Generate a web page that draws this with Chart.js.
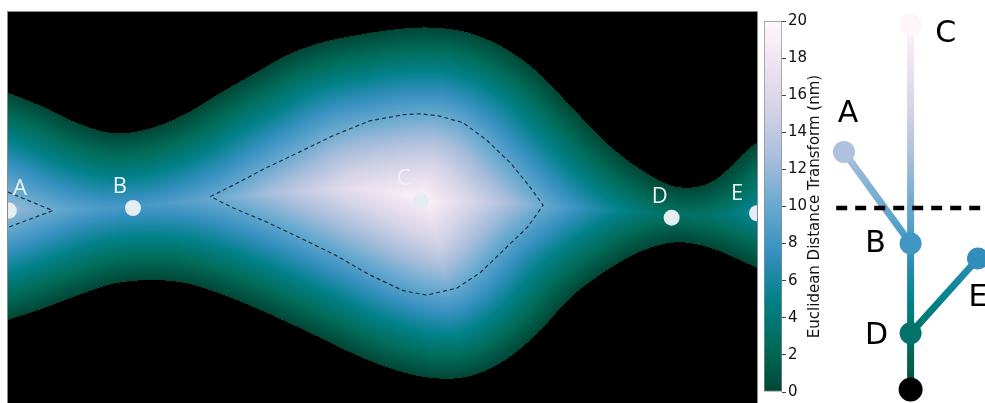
<!DOCTYPE html>
<html>
<head>
<meta charset="utf-8">
<script src="https://cdn.jsdelivr.net/npm/chart.js@4.4.1/dist/chart.umd.min.js"></script>
<style>
  html, body { margin: 0; padding: 0; background: #fff; }
  #wrap { position: relative; width: 985px; height: 403px; overflow: hidden; }
  #wrap canvas { position: absolute; top: 0; }
</style>
</head>
<body>
<div id="wrap">
  <canvas id="fieldChart" width="760" height="403" style="left:0"></canvas>
  <canvas id="cbarChart" width="67" height="403" style="left:763px"></canvas>
  <canvas id="treeChart" width="155" height="403" style="left:830px"></canvas>
</div>
<script>
    // ==========================================
    // DATA (distances in nm)
    // ==========================================
    // channel walls, read every 4 nm along the channel
    const wallX      = [0, 4, 8, 12, 16, 20, 24, 28, 32, 36, 40, 44, 48, 52, 56, 60, 64, 68, 72, 76, 80, 84, 85.1];
    const wallTop    = [13.1, 11.5, 9.6, 8.5, 9.0, 10.6, 13.0, 15.3, 17.5, 18.9, 19.7, 20.3, 20.5, 20.0, 18.4, 15.6, 11.5, 7.4, 4.3, 2.4, 3.0, 6.6, 7.4];
    const wallBottom = [-12.7, -11.4, -9.9, -8.6, -8.2, -8.5, -9.7, -11.3, -13.1, -15.0, -16.9, -18.4, -19.3, -19.2, -17.6, -14.4, -10.1, -7.1, -4.9, -3.9, -4.6, -6.3, -6.8];

    // critical points in the channel
    const siteNames = ['A', 'B', 'C', 'D', 'E'];
    const siteX = [0.1, 14.2, 46.9, 75.4, 85.1];
    const siteY = [-0.3, 0.0, 0.8, -1.1, -0.6];

    // dashed iso-line at the threshold (two pieces)
    const isoLevel = 10;
    const isoCX = [23.0, 25.6, 29.4, 33.2, 36.9, 41.1, 44.9, 46.8, 48.8, 51.7, 54.4, 57.1, 59.3, 60.8, 59.0, 56.3, 53.6, 51.0, 47.6, 44.9, 41.1, 36.9, 33.2, 29.4, 25.6, 23.0];
    const isoCY = [1.3, 2.6, 4.6, 6.4, 8.2, 9.9, 10.6, 10.7, 10.5, 9.7, 7.7, 5.1, 2.4, 0.3, -2.2, -4.8, -7.4, -9.1, -9.9, -9.4, -7.6, -5.2, -3.4, -1.6, 0.0, 1.3];
    const isoAX = [0, 5.1, 0];
    const isoAY = [1.8, -0.3, -2.2];

    // merge tree
    const treeNames = ['A', 'B', 'C', 'D', 'E', 'root'];
    const treeX     = [0.9, 5.2, 5.2, 5.2, 9.55, 5.2];
    const treeLevel = [13.0, 8.1, 19.8, 3.3, 7.3, 0.3];
    const treeEdges = [['C', 'B'], ['A', 'B'], ['B', 'D'], ['E', 'D'], ['D', 'root']];

    // colour bar
    const cbarMin = 0, cbarMax = 20, cbarStep = 2;
    const cbarTitle = 'Euclidean Distance Transform (nm)';
    const cmapStops = ['#014636', '#016c59', '#02818a', '#3690c0', '#67a9cf', '#a6bddb', '#d0d1e6', '#ece2f0', '#fff7fb']; // PuBuGn_r
    // ==========================================

    const stopRGB = cmapStops.map(h => [1, 3, 5].map(i => parseInt(h.substr(i, 2), 16)));
    function cmap(v) {
        const t = Math.max(0, Math.min(1, (v - cbarMin) / (cbarMax - cbarMin))) * (stopRGB.length - 1);
        const i = Math.min(Math.floor(t), stopRGB.length - 2), f = t - i;
        const a = stopRGB[i], b = stopRGB[i + 1];
        return [a[0] + (b[0] - a[0]) * f, a[1] + (b[1] - a[1]) * f, a[2] + (b[2] - a[2]) * f];
    }
    const cssColor = c => `rgb(${Math.round(c[0])},${Math.round(c[1])},${Math.round(c[2])})`;

    function vGradient(chart, yScale) {
        const g = chart.ctx.createLinearGradient(0, yScale.getPixelForValue(cbarMin), 0, yScale.getPixelForValue(cbarMax));
        cmapStops.forEach((c, i) => g.addColorStop(i / (cmapStops.length - 1), c));
        return g;
    }

    // smooth wall curve (same idea as line tension)
    function cr(p0, p1, p2, p3, t) {
        const t2 = t * t, t3 = t2 * t;
        return 0.5 * (2 * p1 + (-p0 + p2) * t + (2 * p0 - 5 * p1 + 4 * p2 - p3) * t2 + (-p0 + 3 * p1 - 3 * p2 + p3) * t3);
    }
    function smooth(xs, ys, n) {
        const ox = [], oy = [], last = xs.length - 1;
        for (let i = 0; i < last; i++) {
            const i0 = Math.max(i - 1, 0), i3 = Math.min(i + 2, last);
            for (let k = 0; k < n; k++) {
                ox.push(cr(xs[i0], xs[i], xs[i + 1], xs[i3], k / n));
                oy.push(cr(ys[i0], ys[i], ys[i + 1], ys[i3], k / n));
            }
        }
        ox.push(xs[last]); oy.push(ys[last]);
        return { x: ox, y: oy };
    }
    const topWall = smooth(wallX, wallTop, 10);
    const botWall = smooth(wallX, wallBottom, 10);

    function findIdx(arr, v) {
        let lo = 0, hi = arr.length - 1;
        if (v <= arr[0]) return 0;
        if (v >= arr[hi]) return hi - 1;
        while (hi - lo > 1) { const m = (lo + hi) >> 1; if (arr[m] <= v) lo = m; else hi = m; }
        return lo;
    }
    function wallAt(W, x) {
        const i = findIdx(W.x, x);
        const f = Math.max(0, Math.min(1, (x - W.x[i]) / (W.x[i + 1] - W.x[i])));
        return W.y[i] + (W.y[i + 1] - W.y[i]) * f;
    }
    function segDist2(px, py, x1, y1, x2, y2) {
        const dx = x2 - x1, dy = y2 - y1;
        let t = ((px - x1) * dx + (py - y1) * dy) / (dx * dx + dy * dy || 1);
        t = Math.max(0, Math.min(1, t));
        const ex = x1 + t * dx - px, ey = y1 + t * dy - py;
        return ex * ex + ey * ey;
    }
    function distToWall(W, px, py, best) {
        const n = W.x.length, i0 = findIdx(W.x, px);
        for (let i = i0; i >= 0; i--) {
            const gap = px - W.x[i + 1];
            if (gap > 0 && gap * gap > best) break;
            best = Math.min(best, segDist2(px, py, W.x[i], W.y[i], W.x[i + 1], W.y[i + 1]));
        }
        for (let i = i0 + 1; i < n - 1; i++) {
            const gap = W.x[i] - px;
            if (gap > 0 && gap * gap > best) break;
            best = Math.min(best, segDist2(px, py, W.x[i], W.y[i], W.x[i + 1], W.y[i + 1]));
        }
        return best;
    }

    // Euclidean distance transform painted pixel by pixel through the chart scales
    function renderField(xs, ys, area) {
        const w = Math.round(area.right - area.left), h = Math.round(area.bottom - area.top);
        const off = document.createElement('canvas');
        off.width = w; off.height = h;
        const octx = off.getContext('2d');
        const img = octx.createImageData(w, h);
        const xv = [];
        for (let i = 0; i < w; i++) xv.push(xs.getValueForPixel(area.left + i + 0.5));
        for (let j = 0; j < h; j++) {
            const y = ys.getValueForPixel(area.top + j + 0.5);
            for (let i = 0; i < w; i++) {
                const x = xv[i], k = (j * w + i) * 4;
                let c = [0, 0, 0];
                if (y <= wallAt(topWall, x) && y >= wallAt(botWall, x)) {
                    let d2 = distToWall(topWall, x, y, Infinity);
                    d2 = distToWall(botWall, x, y, d2);
                    c = cmap(Math.sqrt(d2));
                }
                img.data[k] = c[0]; img.data[k + 1] = c[1]; img.data[k + 2] = c[2]; img.data[k + 3] = 255;
            }
        }
        octx.putImageData(img, 0, 0);
        return off;
    }

    const fieldPlugin = {
        id: 'edtField',
        beforeDatasetsDraw(chart) {
            const { ctx, chartArea: a, scales } = chart;
            if (!chart.$field) chart.$field = renderField(scales.x, scales.y, a);
            ctx.drawImage(chart.$field, Math.round(a.left), Math.round(a.top));
        },
        afterDatasetsDraw(chart) {
            const { ctx, scales } = chart;
            ctx.save();
            ctx.fillStyle = '#eef3f6';
            ctx.font = '22px "Open Sans"';
            ctx.textAlign = 'center';
            ctx.textBaseline = 'middle';
            const offs = [[11, -22], [-13, -21], [-17, -22], [-12, -21], [-20, -20]];
            siteNames.forEach((s, i) => {
                ctx.fillText(s, scales.x.getPixelForValue(siteX[i]) + offs[i][0], scales.y.getPixelForValue(siteY[i]) + offs[i][1]);
            });
            ctx.restore();
        },
        afterDraw(chart) {
            const { ctx, chartArea: a } = chart;
            ctx.save();
            ctx.strokeStyle = '#8c8c8c';
            ctx.lineWidth = 1;
            ctx.strokeRect(a.left - 0.5, a.top - 0.5, a.right - a.left + 1, a.bottom - a.top + 1);
            ctx.restore();
        }
    };

    const toXY = (xs, ys) => xs.map((x, i) => ({ x, y: ys[i] }));
    const isoStyle = { type: 'line', showLine: true, borderColor: '#23303c', borderWidth: 1.2, borderDash: [4, 3], pointRadius: 0, tension: 0, clip: 0 };

    new Chart(document.getElementById('fieldChart'), {
        type: 'scatter',
        data: {
            datasets: [
                { data: toXY(siteX, siteY), pointRadius: 8, pointBackgroundColor: '#e3edf2', pointBorderWidth: 0, clip: 0 },
                { ...isoStyle, data: toXY(isoCX, isoCY) },
                { ...isoStyle, data: toXY(isoAX, isoAY) }
            ]
        },
        options: {
            responsive: false,
            animation: false,
            layout: { autoPadding: false, padding: { left: 8, right: 3, top: 12, bottom: 0 } },
            plugins: { legend: { display: false }, tooltip: { enabled: false } },
            scales: {
                x: { type: 'linear', min: 0, max: 85.1, display: false },
                y: { type: 'linear', min: -22.16, max: 22.27, display: false }
            }
        },
        plugins: [fieldPlugin]
    });

    // colour bar
    const cbarTitlePlugin = {
        id: 'cbarTitle',
        afterDraw(chart) {
            const { ctx, chartArea: a } = chart;
            ctx.save();
            ctx.translate(52, (a.top + a.bottom) / 2);
            ctx.rotate(-Math.PI / 2);
            ctx.fillStyle = '#111';
            ctx.font = '15px "DejaVu Sans"';
            ctx.textAlign = 'center';
            ctx.textBaseline = 'middle';
            ctx.fillText(cbarTitle, 0, 0);
            ctx.restore();
        }
    };

    new Chart(document.getElementById('cbarChart'), {
        type: 'bar',
        data: {
            labels: [''],
            datasets: [{
                data: [[cbarMin, cbarMax]],
                backgroundColor: c => c.chart.chartArea ? vGradient(c.chart, c.chart.scales.y) : '#fff',
                borderColor: '#8c8c8c',
                borderWidth: 1,
                borderSkipped: false,
                barPercentage: 1,
                categoryPercentage: 1
            }]
        },
        options: {
            responsive: false,
            animation: false,
            layout: { autoPadding: false, padding: { left: 1, right: 0, top: 21, bottom: 8 } },
            plugins: { legend: { display: false }, tooltip: { enabled: false } },
            scales: {
                x: { display: false },
                y: {
                    position: 'right',
                    min: cbarMin, max: cbarMax,
                    afterFit: s => { s.width = 48; },
                    border: { display: false },
                    grid: { drawOnChartArea: false, drawTicks: true, tickLength: 4, color: '#444' },
                    ticks: { stepSize: cbarStep, padding: 2, color: '#111', font: { family: 'DejaVu Sans', size: 15 } }
                }
            }
        },
        plugins: [cbarTitlePlugin]
    });

    // merge tree
    const treeLabelPlugin = {
        id: 'treeLabels',
        afterDatasetsDraw(chart) {
            const { ctx, scales } = chart;
            const offs = { A: [4, -38], B: [-35, 1], C: [35, 9], D: [-34, 3], E: [0, 40] };
            ctx.save();
            ctx.fillStyle = '#000';
            ctx.font = '30px "DejaVu Sans"';
            ctx.textAlign = 'center';
            ctx.textBaseline = 'middle';
            treeNames.forEach((n, i) => {
                if (!offs[n]) return;
                ctx.fillText(n, scales.x.getPixelForValue(treeX[i]) + offs[n][0], scales.y.getPixelForValue(treeLevel[i]) + offs[n][1]);
            });
            ctx.restore();
        }
    };

    const nodeAt = n => { const i = treeNames.indexOf(n); return { x: treeX[i], y: treeLevel[i] }; };
    const edgeSets = treeEdges.map(([a, b]) => ({
        type: 'line',
        data: [nodeAt(a), nodeAt(b)],
        showLine: true,
        borderWidth: 7,
        borderColor: c => c.chart.chartArea ? vGradient(c.chart, c.chart.scales.y) : '#3690c0',
        pointRadius: 0,
        clip: false,
        order: 2
    }));

    new Chart(document.getElementById('treeChart'), {
        type: 'scatter',
        data: {
            datasets: [
                {
                    data: treeNames.map((n, i) => ({ x: treeX[i], y: treeLevel[i] })),
                    pointRadius: treeNames.map(n => n === 'root' ? 12 : 11),
                    pointBackgroundColor: treeNames.map((n, i) => n === 'root' ? '#000' : cssColor(cmap(treeLevel[i]))),
                    pointBorderWidth: 0,
                    clip: false,
                    order: 0
                },
                {
                    type: 'line',
                    data: [{ x: 0.4, y: isoLevel }, { x: 10, y: isoLevel }],
                    showLine: true,
                    borderColor: '#000',
                    borderWidth: 4.5,
                    borderDash: [11, 8],
                    pointRadius: 0,
                    clip: false,
                    order: 1
                },
                ...edgeSets
            ]
        },
        options: {
            responsive: false,
            animation: false,
            layout: { autoPadding: false, padding: { left: 0, right: 0, top: 21, bottom: 8 } },
            plugins: { legend: { display: false }, tooltip: { enabled: false } },
            scales: {
                x: { type: 'linear', min: 0, max: 10, display: false },
                y: { type: 'linear', min: cbarMin, max: cbarMax, display: false }
            }
        },
        plugins: [treeLabelPlugin]
    });
</script>
</body>
</html>
